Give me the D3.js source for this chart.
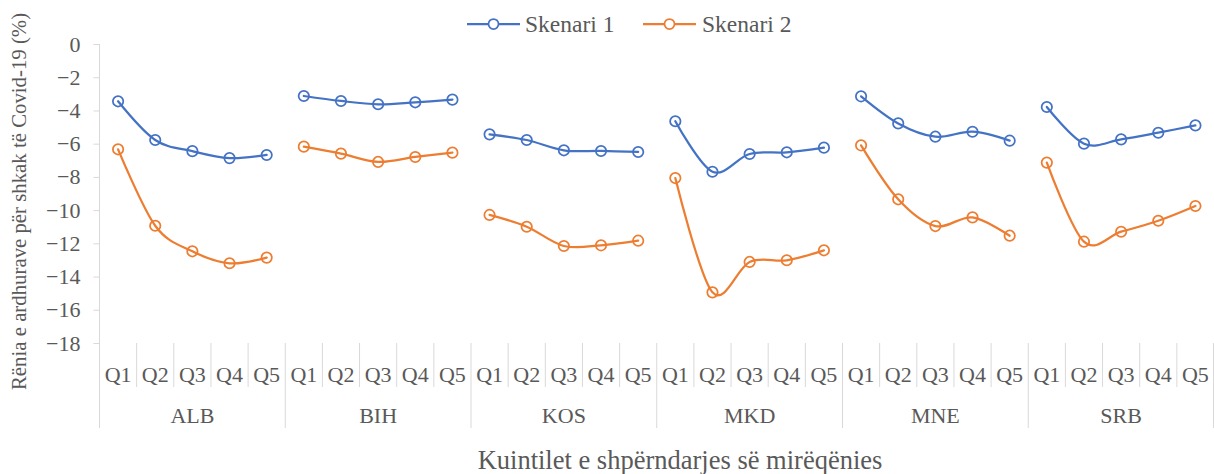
<!DOCTYPE html>
<html>
<head>
<meta charset="utf-8">
<script src="https://cdn.jsdelivr.net/npm/d3@7"></script>
<style>
  body { margin: 0; background: #fff; }
  text { font-family: "Liberation Serif", "Times New Roman", serif; fill: #595959; }
</style>
</head>
<body>
<script>
// data
const countries = ["ALB", "BIH", "KOS", "MKD", "MNE", "SRB"];
const quintiles = ["Q1", "Q2", "Q3", "Q4", "Q5"];
const skenari1 = [
  [-3.45, -5.78, -6.45, -6.87, -6.68],
  [-3.13, -3.43, -3.63, -3.51, -3.35],
  [-5.44, -5.78, -6.40, -6.44, -6.50],
  [-4.65, -7.69, -6.62, -6.52, -6.24],
  [-3.15, -4.78, -5.58, -5.28, -5.82],
  [-3.79, -6.00, -5.74, -5.34, -4.90]
];
const skenari2 = [
  [-6.34, -10.94, -12.48, -13.20, -12.86],
  [-6.18, -6.60, -7.10, -6.80, -6.54],
  [-10.29, -11.00, -12.16, -12.12, -11.84],
  [-8.07, -14.95, -13.12, -13.02, -12.42],
  [-6.10, -9.35, -10.96, -10.44, -11.54],
  [-7.14, -11.90, -11.30, -10.64, -9.75]
];
const seriesNames = ["Skenari 1", "Skenari 2"];
const yTicks = [0, -2, -4, -6, -8, -10, -12, -14, -16, -18];

let svg = null;
let x, y = null;
const W = 1214, H = 474;
const colors = ["#4472C4", "#ED7D31"];
const plot = {left: 99.5, right: 1214, top: 44, bottom: 343};

setupSvg();
setupScales();
drawYAxis();
drawXAxis();
drawSeries();
drawLegend();
drawTitles();

function setupSvg() {
  svg = d3.select("body").append("svg")
    .attr("width", W)
    .attr("height", H);
}

function key(c, q) { return c + "-" + q; }

function setupScales() {
  const keys = [];
  countries.forEach(c => quintiles.forEach(q => keys.push(key(c, q))));
  x = d3.scaleBand().domain(keys).range([plot.left, plot.right]);
  y = d3.scaleLinear().domain([-18, 0]).range([plot.bottom, plot.top]);
}

function drawYAxis() {
  const g = svg.append("g").attr("transform", `translate(${plot.left},0)`);
  g.call(d3.axisLeft(y).tickValues(yTicks).tickSize(6).tickPadding(13).tickFormat(d3.format("d")));
  g.select(".domain").remove();
  g.selectAll(".tick line").attr("stroke", "#D9D9D9");
  g.selectAll(".tick text").style("font-size", "22px").attr("fill", "#595959")
    .style("font-family", "Liberation Serif, serif");
  g.append("line").attr("y1", plot.top).attr("y2", plot.bottom)
    .attr("stroke", "#D9D9D9").attr("stroke-width", 1);
}

function drawXAxis() {
  const g = svg.append("g");
  const bw = x.bandwidth();
  // quintile labels and separators
  countries.forEach(c => {
    quintiles.forEach((q, i) => {
      const x0 = x(key(c, q));
      g.append("text")
        .attr("x", x0 + bw / 2).attr("y", 382)
        .attr("text-anchor", "middle")
        .style("font-size", "22px")
        .text(q);
      if (i > 0) {
        g.append("line")
          .attr("x1", x0).attr("x2", x0)
          .attr("y1", plot.bottom).attr("y2", 387)
          .attr("stroke", "#D9D9D9");
      }
    });
    const gx = x(key(c, "Q1"));
    g.append("line")
      .attr("x1", gx).attr("x2", gx)
      .attr("y1", plot.bottom).attr("y2", 428)
      .attr("stroke", "#D9D9D9");
    g.append("text")
      .attr("x", gx + bw * 2.5).attr("y", 423)
      .attr("text-anchor", "middle")
      .style("font-size", "22px")
      .text(c);
  });
  g.append("line")
    .attr("x1", plot.right - 0.5).attr("x2", plot.right - 0.5)
    .attr("y1", plot.bottom).attr("y2", 428)
    .attr("stroke", "#D9D9D9");
}

function drawSeries() {
  const bw = x.bandwidth();
  const line = d3.line()
    .x(d => x(d.k) + bw / 2)
    .y(d => y(d.v))
    .curve(d3.curveCardinal.tension(0));

  [skenari1, skenari2].forEach((series, si) => {
    const g = svg.append("g");
    countries.forEach((c, ci) => {
      const pts = quintiles.map((q, qi) => ({k: key(c, q), v: series[ci][qi]}));
      g.append("path")
        .attr("d", line(pts))
        .attr("fill", "none")
        .attr("stroke", colors[si])
        .attr("stroke-width", 2.25)
        .attr("stroke-linecap", "round");
      g.selectAll(null).data(pts).enter().append("circle")
        .attr("cx", d => x(d.k) + bw / 2)
        .attr("cy", d => y(d.v))
        .attr("r", 5.2)
        .attr("fill", "none")
        .attr("stroke", colors[si])
        .attr("stroke-width", 1.75);
    });
  });
}

function drawLegend() {
  const items = [{x: 467, tx: 525}, {x: 643, tx: 702}];
  items.forEach((it, i) => {
    const g = svg.append("g");
    g.append("line")
      .attr("x1", it.x).attr("x2", it.x + 53)
      .attr("y1", 24).attr("y2", 24)
      .attr("stroke", colors[i]).attr("stroke-width", 2.25);
    g.append("circle")
      .attr("cx", it.x + 26.5).attr("cy", 24).attr("r", 5)
      .attr("fill", "#fff").attr("stroke", colors[i]).attr("stroke-width", 1.75);
    g.append("text")
      .attr("x", it.tx).attr("y", 32)
      .style("font-size", "23.5px")
      .text(seriesNames[i]);
  });
}

function drawTitles() {
  svg.append("text")
    .attr("transform", "translate(26,390) rotate(-90)")
    .attr("text-anchor", "start")
    .style("font-size", "20.8px")
    .text("Rënia e ardhurave  për shkak të Covid-19 (%)");
  svg.append("text")
    .attr("x", 680).attr("y", 469)
    .attr("text-anchor", "middle")
    .style("font-size", "26.5px")
    .text("Kuintilet e shpërndarjes së mirëqënies");
}
</script>
</body>
</html>
